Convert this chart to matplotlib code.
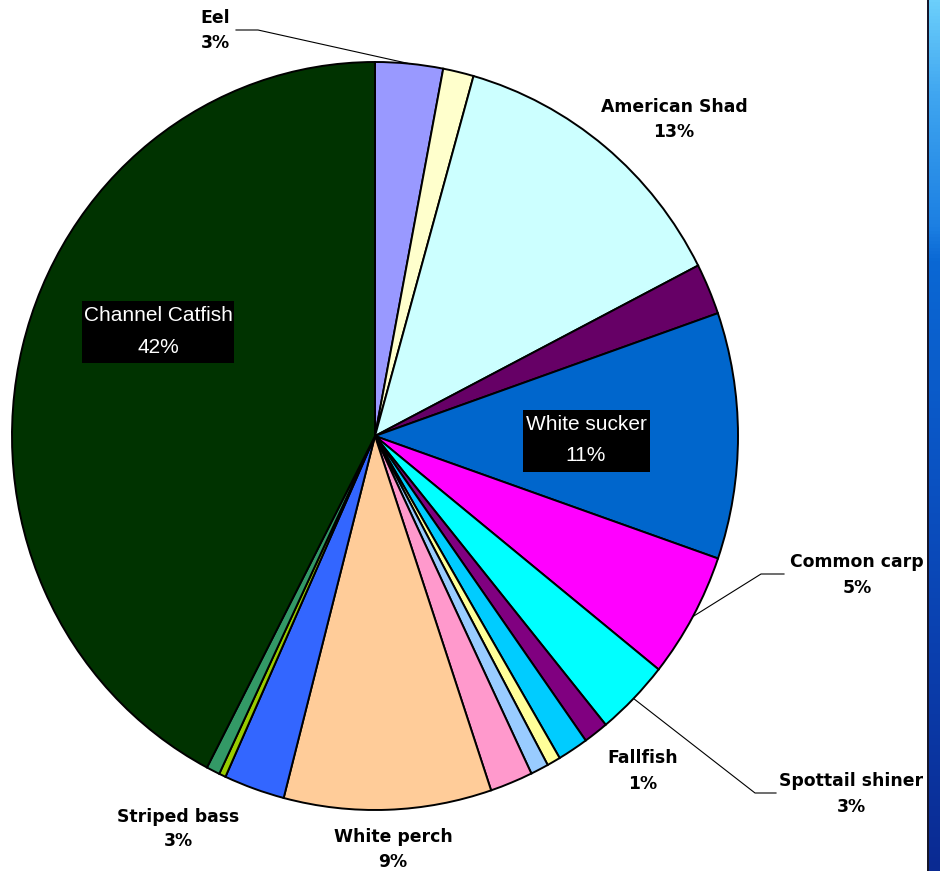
import numpy as np
import matplotlib
matplotlib.use("Agg")
import matplotlib.pyplot as plt
from matplotlib.colors import LinearSegmentedColormap
from matplotlib.patches import Rectangle

# ---- data (clockwise from 12 o'clock) ----
species = ["Eel", "", "American Shad", "", "White sucker", "Common carp",
           "Spottail shiner", "Fallfish", "", "", "", "", "White perch",
           "Striped bass", "", "", "Channel Catfish"]
values = [3.0, 1.36, 13.05, 2.2, 10.6, 5.4, 3.3, 1.1, 1.36, 0.6, 0.8, 1.9,
          9.2, 2.7, 0.3, 0.6, 42.2]
colors = ["#9999FF", "#FFFFCC", "#CCFFFF", "#660066", "#0066CC", "#FF00FF",
          "#00FFFF", "#800080", "#00CCFF", "#FFFF99", "#99CCFF", "#FF99CC",
          "#FFCC99", "#3366FF", "#99CC00", "#339966", "#003300"]

W, H = 940, 871
fig = plt.figure(figsize=(W / 100, H / 100), dpi=100)
fig.patch.set_facecolor("white")

# pie geometry in pixels
cx, cy, rx, ry = 375, 436, 363, 374
ax = fig.add_axes([(cx - rx) / W, (H - cy - ry) / H, 2 * rx / W, 2 * ry / H])
wedges, _ = ax.pie(values, colors=colors, startangle=90, counterclock=False,
                   wedgeprops=dict(edgecolor="black", linewidth=1.4))
for w in wedges:
    w.set_clip_on(False)
ax.set_aspect("auto")
ax.set_xlim(-1, 1)
ax.set_ylim(-1, 1)
ax.axis("off")

# overlay axes in pixel coordinates
ov = fig.add_axes([0, 0, 1, 1], facecolor="none")
ov.set_xlim(0, W)
ov.set_ylim(H, 0)
ov.axis("off")

total = sum(values)
cum = np.cumsum([0] + values)
mid_deg = {species[i]: (cum[i] + values[i] / 2) / total * 360 for i in range(len(values))}
pct = {species[i]: f"{round(values[i] / total * 100)}%" for i in range(len(values))}


def arc_point(name):
    t = np.radians(mid_deg[name])
    return cx + rx * np.sin(t), cy - ry * np.cos(t)


bold = dict(family="DejaVu Sans", weight="bold", fontsize=12.4, color="black",
            ha="center", va="baseline", zorder=3)
# name: (x center, baseline line1, baseline line2, leader elbow points)
outside = {
    "Eel": (215, 23, 48, [(236, 30), (258, 30)]),
    "American Shad": (674, 112, 137, None),
    "Common carp": (857, 567, 593, [(784, 574), (761, 574)]),
    "Spottail shiner": (851, 786, 812, [(776, 793), (755, 793)]),
    "Fallfish": (643, 763, 789, None),
    "White perch": (393, 842, 867, None),
    "Striped bass": (178, 822, 846, None),
}
for name, (x, b1, b2, leader) in outside.items():
    ov.text(x, b1, name, **bold)
    ov.text(x, b2, pct[name], **bold)
    if leader:
        px, py = arc_point(name)
        xs = [p[0] for p in leader] + [px]
        ys = [p[1] for p in leader] + [py]
        ov.plot(xs, ys, color="black", lw=0.8, zorder=2)

# inside labels with black boxes
inside = {
    "Channel Catfish": (158, (82, 301, 152, 62), 321, 353),
    "White sucker": (586, (523, 410, 127, 62), 430, 461),
}
for name, (x, box, b1, b2) in inside.items():
    ov.add_patch(Rectangle((box[0], box[1]), box[2], box[3], facecolor="black",
                           edgecolor="none", zorder=2.5))
    ov.text(x, b1, name, family="Liberation Sans", fontsize=15, color="white",
            ha="center", va="baseline", zorder=3)
    ov.text(x, b2, pct[name], family="Liberation Sans", fontsize=15, color="white",
            ha="center", va="baseline", zorder=3)

# slide background strip on the right
cmap = LinearSegmentedColormap.from_list(
    "bar", [(0.0, "#6CCFFB"), (0.11, "#3FA5F0"), (0.26, "#1C7FE2"),
            (0.3, "#0A68D4"), (0.55, "#0A52C2"), (0.75, "#0A3FAE"),
            (1.0, "#0A2A92")])
grad = np.linspace(0, 1, 256).reshape(-1, 1)
ov.imshow(grad, cmap=cmap, extent=(929, W, H, 0), aspect="auto", zorder=5)
ov.add_patch(Rectangle((927, 0), 2, H, facecolor="#15152a", edgecolor="none", zorder=6))
ov.set_xlim(0, W)
ov.set_ylim(H, 0)

fig.savefig("out.png", dpi=100)
